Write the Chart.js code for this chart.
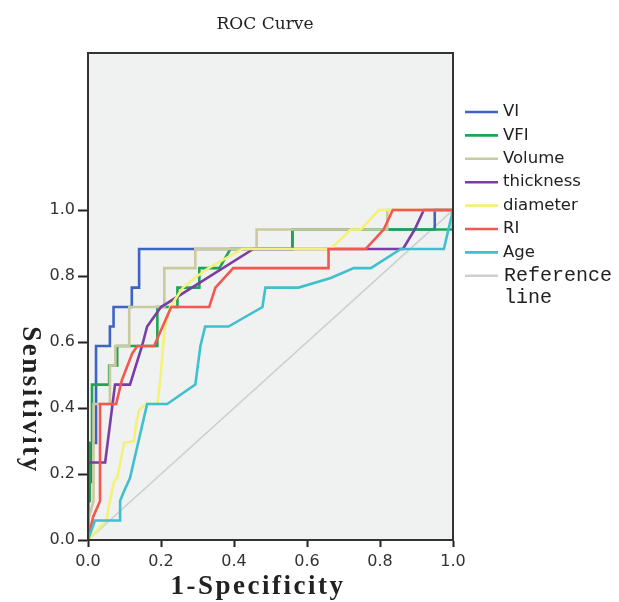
<!DOCTYPE html>
<html>
<head>
<meta charset="utf-8">
<script src="https://cdn.jsdelivr.net/npm/chart.js@4/dist/chart.umd.min.js"></script>
<style>
html,body{margin:0;padding:0;background:#fff;}
#wrap{width:619px;height:602px;}
</style>
</head>
<body>
<div id="wrap"><canvas id="c" width="619" height="602"></canvas></div>
<script>
// ---- data (1-Specificity, Sensitivity) ----
const VI = [[0,0],[0,0.176],[0.008,0.176],[0.008,0.294],[0.022,0.294],[0.022,0.588],[0.06,0.588],[0.06,0.647],[0.07,0.647],[0.07,0.706],[0.12,0.706],[0.12,0.765],[0.14,0.765],[0.14,0.882],[0.56,0.882],[0.56,0.941],[0.95,0.941],[0.95,1],[1,1]];
const VFI = [[0,0],[0,0.118],[0.005,0.118],[0.005,0.294],[0.011,0.294],[0.011,0.471],[0.058,0.471],[0.058,0.529],[0.08,0.529],[0.08,0.588],[0.19,0.588],[0.19,0.706],[0.245,0.706],[0.245,0.765],[0.305,0.765],[0.305,0.824],[0.36,0.824],[0.39,0.882],[0.56,0.882],[0.56,0.941],[1,0.941],[1,1]];
const VOLUME = [[0,0],[0,0.059],[0.015,0.118],[0.015,0.412],[0.06,0.412],[0.06,0.529],[0.075,0.529],[0.075,0.588],[0.113,0.588],[0.113,0.706],[0.209,0.706],[0.209,0.824],[0.294,0.824],[0.294,0.882],[0.462,0.882],[0.462,0.941],[0.82,0.941],[0.82,1],[1,1]];
const THICKNESS = [[0,0],[0,0.235],[0.047,0.235],[0.074,0.471],[0.115,0.471],[0.148,0.588],[0.162,0.647],[0.2,0.706],[0.453,0.882],[0.761,0.882],[0.863,0.882],[0.895,0.941],[0.92,1],[1,1]];
const DIAMETER = [[0,0],[0.05,0.059],[0.06,0.118],[0.071,0.176],[0.08,0.188],[0.099,0.294],[0.126,0.3],[0.132,0.353],[0.14,0.394],[0.159,0.412],[0.19,0.412],[0.198,0.485],[0.21,0.64],[0.225,0.706],[0.26,0.765],[0.3,0.8],[0.33,0.824],[0.423,0.882],[0.665,0.882],[0.72,0.941],[0.747,0.941],[0.797,1],[1,1]];
const RI = [[0,0],[0.014,0.07],[0.033,0.118],[0.033,0.412],[0.077,0.412],[0.093,0.485],[0.121,0.565],[0.135,0.588],[0.181,0.588],[0.228,0.706],[0.332,0.706],[0.349,0.765],[0.398,0.824],[0.659,0.824],[0.659,0.882],[0.761,0.882],[0.81,0.941],[0.835,1],[1,1]];
const AGE = [[0,0],[0.019,0.059],[0.088,0.059],[0.088,0.118],[0.096,0.141],[0.115,0.188],[0.162,0.412],[0.217,0.412],[0.294,0.471],[0.308,0.588],[0.321,0.647],[0.385,0.647],[0.478,0.706],[0.486,0.765],[0.577,0.765],[0.665,0.794],[0.728,0.824],[0.775,0.824],[0.857,0.882],[0.975,0.882],[1,1]];
const REFERENCE = [[0,0],[1,1]];

const seriesNames = ['VI','VFI','Volume','thickness','diameter','RI','Age','Reference line'];
const seriesData = [VI, VFI, VOLUME, THICKNESS, DIAMETER, RI, AGE, REFERENCE];
const seriesColors = ['#3f63c4','#1fa552','#cbc99e','#7a3da3','#f3f17a','#f4574f','#3fc0cf','#cfcfcf'];
const yTicks = [0, 0.2, 0.4, 0.6, 0.8, 1.0];
const xTicks = [0, 0.2, 0.4, 0.6, 0.8, 1.0];
const titleText = 'ROC Curve';
const xTitle = '1-Specificity';
const yTitle = 'Sensitivity';

const datasets = seriesData.map((d, i) => ({
  label: seriesNames[i],
  data: d.map(p => ({x: p[0], y: p[1]})),
  borderColor: seriesColors[i],
  backgroundColor: seriesColors[i],
  borderWidth: i === 7 ? 1.6 : 2.6,
  pointRadius: 0,
  tension: 0,
  fill: false,
  order: 10 - i + (i === 7 ? 10 : 0)
}));

const decor = {
  id: 'decor',
  beforeDraw(chart) {
    const {ctx, chartArea: a} = chart;
    ctx.save();
    ctx.fillStyle = '#ffffff';
    ctx.fillRect(0, 0, chart.width, chart.height);
    ctx.fillStyle = '#f0f1f1';
    ctx.fillRect(a.left, a.top, a.right - a.left, a.bottom - a.top);
    ctx.restore();
  },
  afterDraw(chart) {
    const {ctx, chartArea: a} = chart;
    ctx.save();
    ctx.strokeStyle = '#333';
    ctx.lineWidth = 2;
    ctx.strokeRect(a.left, a.top, a.right - a.left, a.bottom - a.top);

    // title
    ctx.fillStyle = '#222';
    ctx.font = '17px "DejaVu Serif", serif';
    ctx.textAlign = 'center';
    ctx.textBaseline = 'middle';
    ctx.fillText(titleText, 265, 25);

    // axis titles
    ctx.font = 'bold 27px "Liberation Serif", serif';
    if ('letterSpacing' in ctx) ctx.letterSpacing = '2.5px';
    ctx.fillText(xTitle, 258, 587);
    ctx.save();
    ctx.translate(30, 400);
    ctx.rotate(Math.PI / 2);
    ctx.fillText(yTitle, 0, 0);
    ctx.restore();
    if ('letterSpacing' in ctx) ctx.letterSpacing = '0px';

    // legend
    const y0 = 112, step = 23.4;
    ctx.textAlign = 'left';
    seriesNames.forEach((name, i) => {
      const y = y0 + step * i;
      ctx.strokeStyle = seriesColors[i];
      ctx.lineWidth = 2.6;
      ctx.beginPath();
      ctx.moveTo(465, y);
      ctx.lineTo(498, y);
      ctx.stroke();
      ctx.fillStyle = '#222';
      if (i === 7) {
        ctx.font = '20px "Liberation Mono", monospace';
        ctx.fillText('Reference', 504, y);
        ctx.fillText('line', 504, y + 22);
      } else {
        ctx.font = '16.5px "DejaVu Sans", sans-serif';
        ctx.fillText(name, 503, y);
      }
    });
    ctx.restore();
  }
};

new Chart(document.getElementById('c'), {
  type: 'line',
  data: {datasets},
  options: {
    responsive: false,
    animation: false,
    layout: {padding: {left: 0, top: 53, right: 166, bottom: 0}},
    plugins: {legend: {display: false}, title: {display: false}, tooltip: {enabled: false}},
    scales: {
      x: {
        type: 'linear', min: 0, max: 1,
        afterBuildTicks(s) { s.ticks = xTicks.map(v => ({value: v})); },
        afterFit(s) { s.height = 62; },
        grid: {drawOnChartArea: false, drawTicks: true, tickLength: 7, tickWidth: 2, tickColor: '#222'},
        border: {display: true, color: '#222', width: 2},
        ticks: {color: '#333', font: {family: '"DejaVu Sans", sans-serif', size: 16}, padding: 5,
          callback: v => Number(v).toFixed(1)}
      },
      y: {
        type: 'linear', min: 0, max: 1.476,
        afterBuildTicks(s) { s.ticks = yTicks.map(v => ({value: v})); },
        afterFit(s) { s.width = 88; },
        grid: {drawOnChartArea: false, drawTicks: true, tickLength: 10, tickWidth: 2, tickColor: '#222'},
        border: {display: true, color: '#222', width: 2},
        ticks: {color: '#333', font: {family: '"DejaVu Sans", sans-serif', size: 16}, padding: 3,
          callback: v => Number(v).toFixed(1)}
      }
    }
  },
  plugins: [decor]
});
</script>
</body>
</html>
